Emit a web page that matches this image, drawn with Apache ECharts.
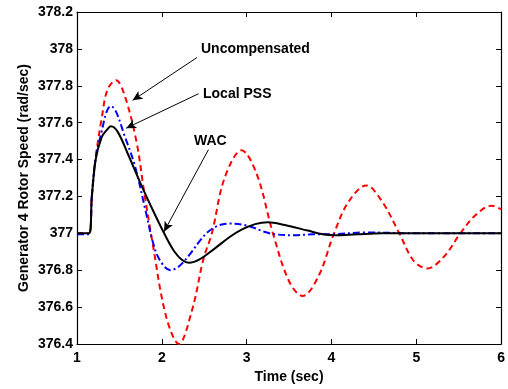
<!DOCTYPE html>
<html>
<head>
<meta charset="utf-8">
<script src="https://cdn.jsdelivr.net/npm/echarts@6/dist/echarts.min.js"></script>
<style>html,body{margin:0;padding:0;background:#fff}#c{width:508px;height:389px}</style>
</head>
<body>
<div id="c"></div>
<script>
// ---- data ----
const xTicks = [1, 2, 3, 4, 5, 6];
const yTicks = [376.4, 376.6, 376.8, 377, 377.2, 377.4, 377.6, 377.8, 378, 378.2];

const uncompT = [1.0, 1.14, 1.175, 1.22, 1.29, 1.36, 1.46, 1.56, 1.70, 1.79, 1.89, 2.05, 2.2, 2.36, 2.49, 2.59, 2.74, 2.94, 3.12, 3.31, 3.5, 3.66, 3.85, 4.03, 4.2, 4.41, 4.6, 4.80, 4.97, 5.13, 5.32, 5.52, 5.7, 5.89, 6.0];
const uncompV = [377.0, 377.0, 377.2, 377.41, 377.62, 377.78, 377.83, 377.75, 377.50, 377.23, 376.95, 376.55, 376.40, 376.59, 376.86, 377.0, 377.30, 377.45, 377.32, 377.0, 376.74, 376.66, 376.77, 377.0, 377.17, 377.26, 377.17, 377.0, 376.85, 376.81, 376.87, 377.0, 377.10, 377.15, 377.13];

const pssT = [1.0, 1.14, 1.175, 1.22, 1.29, 1.35, 1.40, 1.46, 1.56, 1.68, 1.81, 1.89, 1.97, 2.10, 2.2, 2.32, 2.45, 2.55, 2.68, 2.80, 3.02, 3.2, 3.33, 3.56, 3.8, 4.0, 4.4, 5.0, 6.0];
const pssV = [376.995, 376.995, 377.2, 377.41, 377.55, 377.66, 377.69, 377.66, 377.53, 377.37, 377.12, 376.96, 376.86, 376.80, 376.82, 376.88, 376.96, 377.01, 377.045, 377.053, 377.04, 377.01, 376.995, 376.99, 376.995, 376.995, 377.005, 377.0, 377.0];

const wacT = [1.0, 1.14, 1.175, 1.22, 1.29, 1.35, 1.40, 1.48, 1.60, 1.75, 1.91, 2.05, 2.15, 2.24, 2.32, 2.45, 2.63, 2.80, 2.94, 3.1, 3.25, 3.45, 3.72, 3.9, 4.04, 4.3, 4.6, 5.0, 6.0];
const wacV = [377.0, 377.0, 377.2, 377.40, 377.52, 377.56, 377.58, 377.55, 377.43, 377.27, 377.11, 376.98, 376.90, 376.855, 376.84, 376.86, 376.92, 376.98, 377.02, 377.05, 377.06, 377.045, 377.015, 376.995, 376.99, 376.995, 377.0, 377.0, 377.0];

// annotation arrows: [startT, startV, endT, endV]
const annUncomp = [2.414, 377.953, 1.656, 377.721];
const annPSS = [2.434, 377.757, 1.579, 377.570];
const annWAC = [2.550, 377.454, 2.026, 377.009];

// ---- chart ----
const zip = (t, v) => t.map((x, i) => [x, v[i]]);
const font = 'Liberation Sans, Arial, Helvetica, sans-serif';
const chart = echarts.init(document.getElementById('c'), null, {renderer: 'canvas'});

const arrow = a => [{coord: [a[0], a[1]]}, {coord: [a[2], a[3]]}];

const baseAxisLine = {show: true, lineStyle: {color: '#000', width: 1.2}};
const tickIn = {show: true, inside: true, length: 5, lineStyle: {color: '#000', width: 1}};

chart.setOption({
  animation: false,
  backgroundColor: '#fff',
  grid: {left: 77, right: 2, top: 12, bottom: 40, containLabel: false},
  xAxis: [
    {type: 'value', min: 1, max: 6, interval: 1, position: 'bottom',
     name: 'Time (sec)', nameLocation: 'middle', nameGap: 26, nameMoveOverlap: false,
     nameTextStyle: {fontFamily: font, fontWeight: 'bold', fontSize: 14, color: '#000'},
     axisLine: baseAxisLine, axisTick: tickIn, splitLine: {show: false},
     axisLabel: {margin: 7, fontFamily: font, fontWeight: 'bold', fontSize: 14, color: '#000'}},
    {type: 'value', min: 1, max: 6, interval: 1, position: 'top',
     axisLine: baseAxisLine, axisTick: tickIn, splitLine: {show: false},
     axisLabel: {show: false}}
  ],
  yAxis: [
    {type: 'value', min: 376.4, max: 378.2, interval: 0.2, position: 'left',
     name: 'Generator 4 Rotor Speed (rad/sec)', nameLocation: 'middle', nameGap: 46, nameMoveOverlap: false,
     nameTextStyle: {fontFamily: font, fontWeight: 'bold', fontSize: 14, color: '#000'},
     axisLine: baseAxisLine, axisTick: tickIn, splitLine: {show: false},
     axisLabel: {margin: 4, fontFamily: font, fontWeight: 'bold', fontSize: 14, color: '#000',
       formatter: v => String(parseFloat(v.toFixed(1)))}},
    {type: 'value', min: 376.4, max: 378.2, interval: 0.2, position: 'right',
     axisLine: baseAxisLine, axisTick: tickIn, splitLine: {show: false},
     axisLabel: {show: false}}
  ],
  series: [
    {name: 'Uncompensated', type: 'line', data: zip(uncompT, uncompV), smooth: 0.35,
     showSymbol: false, clip: true,
     lineStyle: {color: '#ff0000', width: 2, type: [6, 4]}},
    {name: 'Local PSS', type: 'line', data: zip(pssT, pssV), smooth: 0.35,
     showSymbol: false, clip: true,
     lineStyle: {color: '#0000ff', width: 2, type: [7, 3, 2, 3]}},
    {name: 'WAC', type: 'line', data: zip(wacT, wacV), smooth: 0.35,
     showSymbol: false, clip: true,
     lineStyle: {color: '#000000', width: 2},
     markLine: {
       silent: true, symbol: ['none', 'arrow'], symbolSize: [7, 10],
       lineStyle: {color: '#000', width: 1, type: 'solid'},
       label: {show: false},
       data: [arrow(annUncomp), arrow(annPSS), arrow(annWAC)]
     }}
  ],
  graphic: [
    {type: 'text', left: 201, top: 42, style: {text: 'Uncompensated', font: 'bold 14px ' + font, fill: '#000'}},
    {type: 'text', left: 203, top: 87, style: {text: 'Local PSS', font: 'bold 14px ' + font, fill: '#000'}},
    {type: 'text', left: 194, top: 134, style: {text: 'WAC', font: 'bold 14px ' + font, fill: '#000'}}
  ]
});
</script>
</body>
</html>
